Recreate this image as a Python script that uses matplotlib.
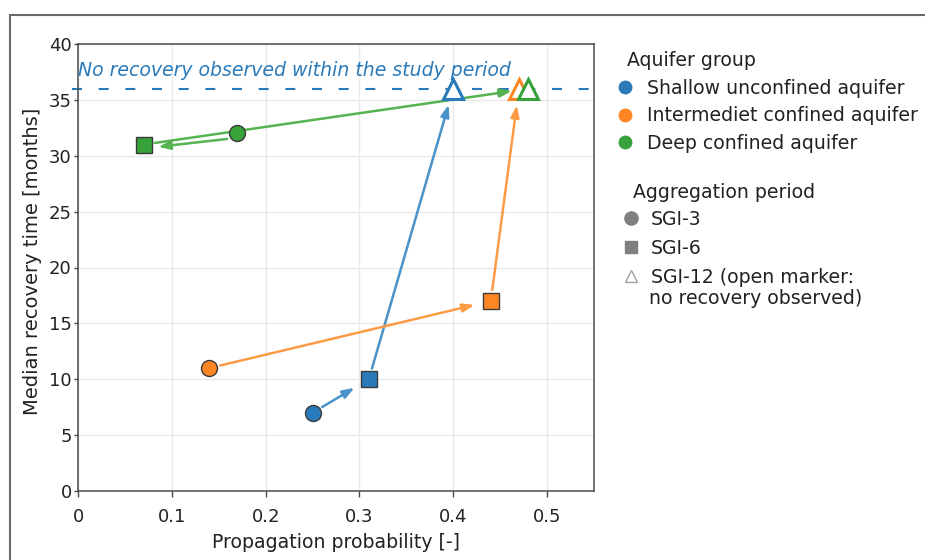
import matplotlib
matplotlib.use("Agg")
import matplotlib.pyplot as plt
from matplotlib.lines import Line2D
from matplotlib.patches import Rectangle
from matplotlib.transforms import ScaledTranslation

plt.rcParams['font.family'] = ['DejaVu Sans']

groups = ["Shallow unconfined aquifer", "Intermediet confined aquifer", "Deep confined aquifer"]
colors = ["#2a7ab9", "#fd8523", "#37a13a"]
arrow_colors = ["#4a93c8", "#fd9a45", "#55b350"]
periods = ["SGI-3", "SGI-6", "SGI-12"]
prob = {
    "Shallow unconfined aquifer": [0.25, 0.31, 0.40],
    "Intermediet confined aquifer": [0.14, 0.44, 0.47],
    "Deep confined aquifer": [0.17, 0.07, 0.48],
}
months = {
    "Shallow unconfined aquifer": [7, 10, 36],
    "Intermediet confined aquifer": [11, 17, 36],
    "Deep confined aquifer": [32, 31, 36],
}
no_recovery_level = 36
xticks = [0, 0.1, 0.2, 0.3, 0.4, 0.5]
xticklabels = ["0", "0.1", "0.2", "0.3", "0.4", "0.5"]
yticks = [0, 5, 10, 15, 20, 25, 30, 35, 40]

TXT = "#222222"
FS = 13.6

fig = plt.figure(figsize=(9.25, 5.6), dpi=100)
ax = fig.add_axes([78/925, 1-491/560, (594-78)/925, (491-44)/560])

# outer frame
fig.add_artist(Rectangle((10/925, -0.05), 1.0, 1-15/560+0.05, transform=fig.transFigure,
                         fill=False, edgecolor="#6b6b6b", linewidth=1.5))

ax.set_xlim(0, 0.55)
ax.set_ylim(0, 40)
ax.set_xticks(xticks)
ax.set_xticklabels(xticklabels)
ax.set_yticks(yticks)
ax.grid(True, color="#e9e9e9", linewidth=1)
ax.set_axisbelow(True)
for s in ax.spines.values():
    s.set_color("#4a4a4a")
    s.set_linewidth(1.1)
ax.tick_params(axis="y", direction="out", length=3, width=1, pad=1.5, color="#4a4a4a",
               labelsize=13, labelcolor=TXT)
ax.tick_params(axis="x", direction="out", length=4, width=1, pad=8, color="#4a4a4a",
               labelsize=13, labelcolor=TXT)
ax.set_xlabel("Propagation probability [-]", fontsize=13.6, color=TXT, labelpad=5.5)
ax.set_ylabel("Median recovery time [months]", fontsize=14, color=TXT)
ax.yaxis.set_label_coords(-0.07, 0.513)

ax.axhline(no_recovery_level, xmin=-0.012, xmax=1.0, color="#2a7ab9",
           linestyle=(0, (4.8, 8.0)), linewidth=1.5, zorder=1, clip_on=False)
ax.text(0.0, 37.15, "No recovery observed within the study period", style="italic",
        color="#2a7ab9", fontsize=FS, va="baseline", ha="left")

# endpoint offsets in points (style only) for the deep-aquifer SGI-3 -> SGI-6 arrow
special = {("Deep confined aquifer", 0): ((-7.5, -4.0), (10.5, -1.6))}

for g, c, ac in zip(groups, colors, arrow_colors):
    xs, ys = prob[g], months[g]
    for i in range(2):
        style = dict(arrowstyle="-|>,head_length=0.7,head_width=0.25",
                     color=ac, lw=1.8, shrinkA=8, shrinkB=12)
        if (g, i) in special:
            (sx, sy), (ex, ey) = special[(g, i)]
            tA = ax.transData + ScaledTranslation(sx/72, sy/72, fig.dpi_scale_trans)
            tB = ax.transData + ScaledTranslation(ex/72, ey/72, fig.dpi_scale_trans)
            ax.annotate("", xy=(xs[i+1], ys[i+1]), xycoords=tB,
                        xytext=(xs[i], ys[i]), textcoords=tA,
                        arrowprops=dict(style, shrinkA=0, shrinkB=0), zorder=2)
        else:
            ax.annotate("", xy=(xs[i+1], ys[i+1]), xytext=(xs[i], ys[i]),
                        arrowprops=style, zorder=2)
    ax.plot(xs[0], ys[0], marker="o", markersize=11.5, color=c, markeredgecolor="#3a3a3a",
            markeredgewidth=1, linestyle="none", zorder=3)
    ax.plot(xs[1], ys[1], marker="s", markersize=11.5, color=c, markeredgecolor="#3a3a3a",
            markeredgewidth=1, linestyle="none", zorder=3)
    ax.plot(xs[2], ys[2], marker="^", markersize=14, markerfacecolor="white",
            markeredgecolor=c, markeredgewidth=2.2, linestyle="none", zorder=4)

# legends
fig.text(627/925, 1-60/560, "Aquifer group", fontsize=FS, color=TXT, ha="left", va="center")
h1 = [Line2D([], [], marker="o", color=c, markersize=9, linestyle="none") for c in colors]
fig.legend(h1, groups, loc="upper left", bbox_to_anchor=(615.5/925, 1-78.5/560),
           frameon=False, fontsize=FS, handlelength=1.0, handletextpad=0.65,
           labelspacing=0.46, borderaxespad=0, borderpad=0, labelcolor=TXT)

fig.text(633/925, 1-192/560, "Aggregation period", fontsize=FS, color=TXT, ha="left", va="center")
h2 = [Line2D([], [], marker="o", color="#808080", markersize=9.5, linestyle="none"),
      Line2D([], [], marker="s", color="#808080", markersize=9, linestyle="none"),
      Line2D([], [], marker="^", markerfacecolor="white", markeredgecolor="#a0a0a0",
             markeredgewidth=1, markersize=9, linestyle="none")]
labels2 = ["SGI-3", "SGI-6", "SGI-12 (open marker:"]
fig.legend(h2, labels2, loc="upper left", bbox_to_anchor=(621.5/925, 1-210/560),
           frameon=False, fontsize=FS, handlelength=1.0, handletextpad=0.55,
           labelspacing=0.52, borderaxespad=0, borderpad=0, labelcolor=TXT)
fig.text(649/925, 1-298/560, "no recovery observed)", fontsize=FS, color=TXT,
         ha="left", va="center")

fig.savefig("out.png", dpi=100)
